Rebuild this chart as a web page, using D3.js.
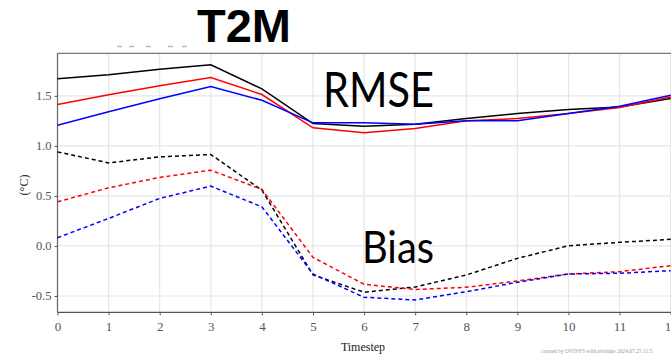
<!DOCTYPE html>
<html>
<head>
<meta charset="utf-8">
<script src="https://cdn.jsdelivr.net/npm/d3@7"></script>
<style>
  html, body { margin: 0; padding: 0; background: #fff; }
  svg { display: block; }
</style>
</head>
<body>
<svg id="chart" width="671" height="355"></svg>
<script>
// Forecast timesteps
const timesteps = [0, 1, 2, 3, 4, 5, 6, 7, 8, 9, 10, 11, 12];

// RMSE (°C) per experiment
const rmseBlack = [1.67, 1.71, 1.765, 1.81, 1.57, 1.223, 1.197, 1.217, 1.273, 1.323, 1.363, 1.389, 1.473];
const rmseRed   = [1.413, 1.51, 1.60, 1.682, 1.513, 1.18, 1.13, 1.173, 1.25, 1.273, 1.323, 1.383, 1.489];
const rmseBlue  = [1.207, 1.34, 1.47, 1.593, 1.456, 1.23, 1.23, 1.217, 1.25, 1.25, 1.323, 1.396, 1.506];

// Bias (°C) per experiment
const biasBlack = [0.94, 0.83, 0.89, 0.914, 0.558, -0.29, -0.463, -0.41, -0.29, -0.124, 0.002, 0.036, 0.066];
const biasRed   = [0.441, 0.581, 0.685, 0.757, 0.565, -0.114, -0.383, -0.435, -0.413, -0.35, -0.28, -0.257, -0.197];
const biasBlue  = [0.082, 0.275, 0.475, 0.598, 0.391, -0.28, -0.513, -0.54, -0.457, -0.363, -0.28, -0.273, -0.247];

const yTicks = [-0.5, 0.0, 0.5, 1.0, 1.5];
const seriesColors = ["#000000", "#ff0000", "#0000ff"];

const svg = d3.select("#chart");
const plot = { left: 57.5, right: 672, top: 53.3, bottom: 312.3 };

const x = d3.scaleLinear().domain([0, 12]).range([plot.left, plot.left + 12 * 51.1]);
const y = d3.scaleLinear().domain([-0.663, 1.925]).range([plot.bottom, plot.top]);

// Grid
const grid = svg.append("g");
grid.selectAll("line.vx").data(timesteps).join("line")
  .attr("x1", d => x(d)).attr("x2", d => x(d))
  .attr("y1", plot.top).attr("y2", plot.bottom)
  .attr("stroke", "#e6e6e6").attr("stroke-width", 1.2);
grid.selectAll("line.hy").data(yTicks).join("line")
  .attr("x1", plot.left).attr("x2", plot.right)
  .attr("y1", d => y(d)).attr("y2", d => y(d))
  .attr("stroke", "#e6e6e6").attr("stroke-width", 1.2);

// Frame lines
svg.append("line").attr("x1", plot.left).attr("x2", plot.right)
  .attr("y1", plot.top).attr("y2", plot.top).attr("stroke", "#555").attr("stroke-width", 1);
svg.append("line").attr("x1", plot.left).attr("x2", plot.right)
  .attr("y1", plot.bottom).attr("y2", plot.bottom).attr("stroke", "#555").attr("stroke-width", 1.2);
svg.append("line").attr("x1", plot.left).attr("x2", plot.left)
  .attr("y1", plot.top).attr("y2", plot.bottom).attr("stroke", "#666").attr("stroke-width", 1.2);

// Axes
const yAxis = d3.axisLeft(y).tickValues(yTicks).tickFormat(d3.format(".1f")).tickSize(3).tickPadding(3);
const gy = svg.append("g").attr("transform", `translate(${plot.left},0)`).call(yAxis);
gy.select(".domain").remove();
gy.selectAll(".tick line").attr("stroke", "#555");
gy.selectAll(".tick text").attr("fill", "#555")
  .style("font-family", "'Liberation Serif', serif").style("font-size", "12.5px")
  .text(d => d < 0 ? "-" + Math.abs(d).toFixed(1) : d.toFixed(1));

const xAxis = d3.axisBottom(x).tickValues(timesteps).tickFormat(d3.format("d")).tickSize(3).tickPadding(6);
const gx = svg.append("g").attr("transform", `translate(0,${plot.bottom})`).call(xAxis);
gx.select(".domain").remove();
gx.selectAll(".tick line").attr("stroke", "#555");
gx.selectAll(".tick text").attr("fill", "#555")
  .style("font-family", "'Liberation Serif', serif").style("font-size", "13px");

// Lines
const line = d3.line().x((d, i) => x(timesteps[i])).y(d => y(d));

const rmse = [rmseBlack, rmseRed, rmseBlue];
const bias = [biasBlack, biasRed, biasBlue];

svg.append("g").selectAll("path").data(bias).join("path")
  .attr("d", line).attr("fill", "none")
  .attr("stroke", (d, i) => seriesColors[i]).attr("stroke-width", 1.5)
  .attr("stroke-dasharray", "4,3");

svg.append("g").selectAll("path").data(rmse).join("path")
  .attr("d", line).attr("fill", "none")
  .attr("stroke", (d, i) => seriesColors[i]).attr("stroke-width", 1.5);

// Faint legend remnants above the panel
const legendDashes = [117, 129, 146, 168, 182];
svg.append("g").selectAll("line").data(legendDashes).join("line")
  .attr("x1", d => d).attr("x2", d => d + 5)
  .attr("y1", 46.5).attr("y2", 46.5)
  .attr("stroke", "#bbb").attr("stroke-width", 1.5);

// Titles and annotations
svg.append("text").attr("x", 197).attr("y", 42)
  .style("font-family", "'Liberation Sans', Arial, sans-serif").style("font-weight", "bold")
  .style("font-size", "47px").attr("fill", "#000").text("T2M");

svg.append("text").attr("x", 323).attr("y", 107)
  .attr("textLength", 111).attr("lengthAdjust", "spacingAndGlyphs")
  .style("font-family", "Lato, sans-serif").style("font-size", "48px").attr("fill", "#000").text("RMSE");

svg.append("text").attr("x", 362).attr("y", 263)
  .attr("textLength", 72).attr("lengthAdjust", "spacingAndGlyphs")
  .style("font-family", "Lato, sans-serif").style("font-size", "44px").attr("fill", "#000").text("Bias");

svg.append("text").attr("transform", "translate(28,185) rotate(-90)")
  .attr("text-anchor", "middle")
  .style("font-family", "'Liberation Serif', serif").style("font-size", "12px").attr("fill", "#333")
  .text("(°C)");

svg.append("text").attr("x", 363).attr("y", 351).attr("text-anchor", "middle")
  .style("font-family", "'Liberation Serif', serif").style("font-size", "12px").attr("fill", "#222")
  .text("Timestep");

svg.append("text").attr("x", 541).attr("y", 353)
  .style("font-family", "'Liberation Serif', serif").style("font-size", "5.5px").attr("fill", "#999")
  .text("created by OVISYS with plotnine 2024.07.25 11:5");
</script>
</body>
</html>
